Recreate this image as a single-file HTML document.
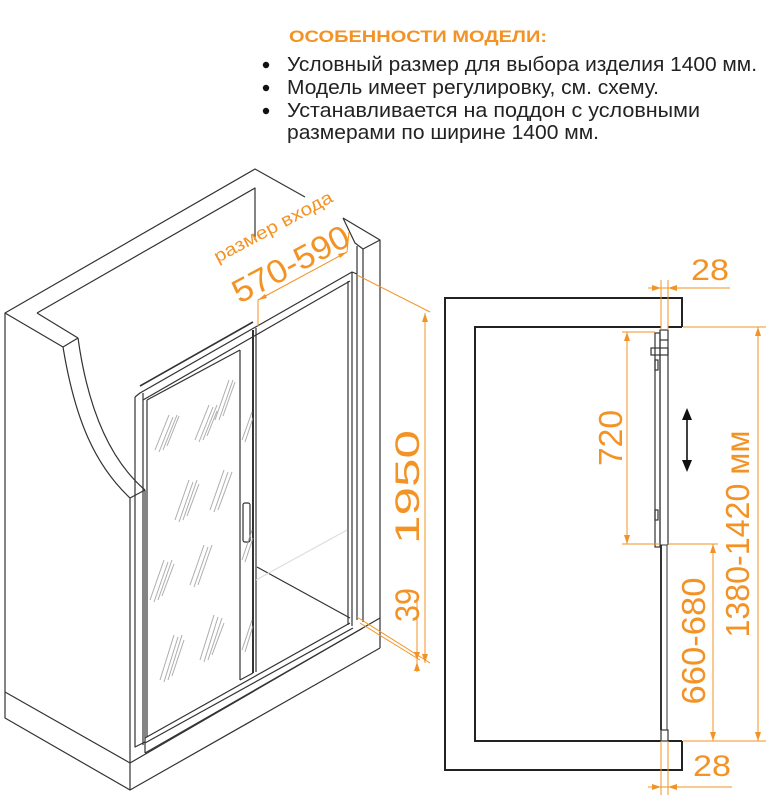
<!DOCTYPE html>
<html><head><meta charset="utf-8"><style>
html,body{margin:0;padding:0;background:#fff;}
svg{display:block;}
text{font-family:"Liberation Sans",sans-serif;}
</style></head><body>
<svg width="770" height="799" viewBox="0 0 770 799" xmlns="http://www.w3.org/2000/svg">
<!-- Header text -->
<text x="289" y="42" font-size="17" font-weight="bold" fill="#f39325" textLength="258" lengthAdjust="spacingAndGlyphs">ОСОБЕННОСТИ МОДЕЛИ:</text>
<g font-size="20" fill="#222">
<circle cx="266" cy="65" r="3.2" fill="#111"/>
<circle cx="266" cy="88" r="3.2" fill="#111"/>
<circle cx="266" cy="111" r="3.2" fill="#111"/>
<text x="287" y="71" textLength="470" lengthAdjust="spacingAndGlyphs">Условный размер для выбора изделия 1400 мм.</text>
<text x="287" y="94" textLength="372" lengthAdjust="spacingAndGlyphs">Модель имеет регулировку, см. схему.</text>
<text x="287" y="117" textLength="413" lengthAdjust="spacingAndGlyphs">Устанавливается на поддон с условными</text>
<text x="287" y="139" textLength="312" lengthAdjust="spacingAndGlyphs">размерами по ширине 1400 мм.</text>
</g>

<!-- Left isometric drawing -->
<g fill="none" stroke="#333" stroke-width="1.2" stroke-linejoin="round">
<!-- outer top edges -->
<polyline points="5,692 5,313 255,169 305,197"/>
<polyline points="343,218 380,240 380,648"/>
<polyline points="37,313 255,188 255,240"/>
<line x1="5" y1="313" x2="63" y2="347"/>
<line x1="37" y1="313" x2="78" y2="338"/>
<line x1="63" y1="347" x2="78" y2="338"/>
<path d="M63,347 C75,420 95,465 130,498"/>
<path d="M78,338 C88,410 110,460 145,490"/>
<line x1="130" y1="498" x2="145" y2="490"/>
<line x1="130" y1="498" x2="130" y2="790"/>
<line x1="145" y1="490" x2="145" y2="753"/>
<!-- base -->
<polyline points="5,692 5,718 130,790 380,648"/>
<line x1="5" y1="692" x2="130" y2="763"/>
<line x1="130" y1="763" x2="380" y2="618"/>
<line x1="145" y1="753" x2="363" y2="628"/>
<!-- right wall -->
<polyline points="343,218 355,243 363,249 380,240"/>
<line x1="363" y1="249" x2="363" y2="622"/>
<line x1="357" y1="246" x2="357" y2="620"/>
<!-- door frame -->
<polyline points="135,397 135,747 145,742"/>
<polyline points="135,397 140,393 352,272 357,274"/>
<line x1="143" y1="393" x2="143" y2="745"/>
<line x1="143" y1="400" x2="350" y2="281"/>
<line x1="140" y1="386" x2="253" y2="322" stroke-width="1.6"/>
<line x1="348" y1="281" x2="348" y2="625"/>
<line x1="352" y1="272" x2="352" y2="626"/>
<line x1="145" y1="738" x2="350" y2="623"/>
<line x1="145" y1="743" x2="353" y2="628"/>
<!-- fixed glass -->
<line x1="147" y1="400" x2="240" y2="350"/>
<line x1="147" y1="400" x2="147" y2="737"/>
<line x1="240" y1="350" x2="240" y2="680"/>
<line x1="253" y1="330" x2="253" y2="673" stroke-width="2"/>
<line x1="256" y1="328" x2="256" y2="672"/>
<line x1="240" y1="680" x2="253" y2="673"/>
<!-- floor -->
<line x1="257" y1="567" x2="350" y2="618"/>
<line x1="256" y1="580" x2="347" y2="530" stroke="#ddd"/>
<!-- handle -->
<rect x="243" y="503" width="7" height="39" rx="2"/>
</g>
<!-- glass hatching -->
<g stroke="#999" stroke-width="1" opacity="0.8">
<path d="M155,450l14,-35M159,452l14,-35M163,450l14,-35M167,446l12,-30"/>
<path d="M195,440l14,-35M199,442l14,-35M203,440l14,-35M207,436l10,-25"/>
<path d="M175,520l14,-40M179,522l14,-40M183,520l14,-40M187,516l12,-32"/>
<path d="M210,510l14,-40M214,512l14,-40M218,510l14,-38"/>
<path d="M150,600l14,-40M154,602l14,-40M158,600l14,-40M162,596l12,-32"/>
<path d="M190,585l14,-40M194,587l14,-40M198,585l14,-40"/>
<path d="M160,680l14,-45M164,682l14,-45M168,680l14,-45M172,676l12,-36"/>
<path d="M200,660l14,-45M204,662l14,-45M208,660l14,-42M212,655l12,-32"/>
<path d="M215,420l14,-40M219,420l14,-40M223,416l12,-34"/>
<path d="M242,440l10,-28M245,442l8,-24M242,560l10,-30M245,562l8,-24M242,650l10,-30M245,652l8,-26"/>
</g>
<!-- orange dims left -->
<g stroke="#f39325" stroke-width="1" fill="#f39325">
<line x1="258" y1="300" x2="258" y2="326"/>
<line x1="258" y1="300" x2="347" y2="252"/>
<line x1="347" y1="252" x2="349" y2="232"/>
<path d="M258,300l9,-2 -2,-4z" stroke="none"/>
<path d="M347,252l-9,2 2,4z" stroke="none"/>
<line x1="357" y1="275" x2="430" y2="312"/>
<line x1="357" y1="617" x2="430" y2="663"/>
<line x1="360" y1="623" x2="420" y2="660"/>
<line x1="425" y1="313" x2="425" y2="663"/>
<path d="M425,313l-3,9 6,0z M425,663l-3,-9 6,0z" stroke="none"/>
<line x1="417" y1="592" x2="417" y2="672"/>
<path d="M417,660l-3,-8 6,0z M417,662l-3,9 6,0z" stroke="none"/>
</g>
<g fill="#f39325">
<text transform="translate(276,232) rotate(-28)" font-size="18" text-anchor="middle" textLength="132" lengthAdjust="spacingAndGlyphs">размер входа</text>
<text transform="translate(296,274) rotate(-28)" font-size="33" text-anchor="middle" textLength="128" lengthAdjust="spacingAndGlyphs">570-590</text>
<text transform="translate(419,487) rotate(-90)" font-size="34" text-anchor="middle" textLength="114" lengthAdjust="spacingAndGlyphs">1950</text>
<text transform="translate(419,605) rotate(-90)" font-size="34" text-anchor="middle" textLength="34" lengthAdjust="spacingAndGlyphs">39</text>
</g>

<!-- Right plan drawing -->
<g fill="none" stroke="#222" stroke-width="2">
<polyline points="682,327 682,298 445,298 445,770 682,770 682,741"/>
<polyline points="661,327 475,327 475,741 661,741"/>
<line x1="682" y1="327" x2="668" y2="327"/>
<line x1="682" y1="741" x2="668" y2="741"/>
</g>
<g fill="none" stroke="#333" stroke-width="1.2">
<rect x="660" y="330" width="8" height="10"/>
<line x1="660" y1="340" x2="660" y2="545"/>
<line x1="668" y1="340" x2="668" y2="545"/>
<rect x="655" y="333" width="5" height="214"/>
<rect x="651" y="348" width="17" height="7"/>
<rect x="655" y="360" width="3" height="10"/>
<rect x="655" y="510" width="3" height="10"/>
<rect x="661" y="545" width="6" height="185" stroke-width="1"/>
<line x1="661" y1="545" x2="661" y2="730" stroke-width="2"/>
<rect x="661" y="730" width="7" height="11"/>
</g>
<g stroke="#f39325" stroke-width="1" fill="#f39325">
<line x1="661" y1="280" x2="661" y2="330"/>
<line x1="668" y1="280" x2="668" y2="330"/>
<line x1="648" y1="288" x2="730" y2="288"/>
<path d="M661,288l-9,-3 0,6z M668,288l9,-3 0,6z" stroke="none"/>
<line x1="661" y1="741" x2="661" y2="795"/>
<line x1="668" y1="741" x2="668" y2="795"/>
<line x1="648" y1="787" x2="732" y2="787"/>
<path d="M661,787l-9,-3 0,6z M668,787l9,-3 0,6z" stroke="none"/>
<line x1="622" y1="332" x2="655" y2="332"/>
<line x1="622" y1="544" x2="660" y2="544"/>
<line x1="627" y1="332" x2="627" y2="544"/>
<path d="M627,332l-3,9 6,0z M627,544l-3,-9 6,0z" stroke="none"/>
<line x1="668" y1="544" x2="718" y2="544"/>
<line x1="713" y1="544" x2="713" y2="741"/>
<path d="M713,544l-3,9 6,0z M713,741l-3,-9 6,0z" stroke="none"/>
<line x1="683" y1="327" x2="766" y2="327"/>
<line x1="683" y1="741" x2="766" y2="741"/>
<line x1="758" y1="327" x2="758" y2="741"/>
<path d="M758,327l-3,9 6,0z M758,741l-3,-9 6,0z" stroke="none"/>
</g>
<g stroke="#111" stroke-width="1.6" fill="#111">
<line x1="687" y1="414" x2="687" y2="466"/>
<path d="M687,408l-5,12 10,0z M687,472l-5,-12 10,0z" stroke="none"/>
</g>
<g fill="#f39325">
<text x="710" y="280" font-size="30" text-anchor="middle" textLength="38" lengthAdjust="spacingAndGlyphs">28</text>
<text x="712" y="776" font-size="30" text-anchor="middle" textLength="38" lengthAdjust="spacingAndGlyphs">28</text>
<text transform="translate(622,438) rotate(-90)" font-size="33" text-anchor="middle" textLength="56" lengthAdjust="spacingAndGlyphs">720</text>
<text transform="translate(705,641) rotate(-90)" font-size="33" text-anchor="middle" textLength="127" lengthAdjust="spacingAndGlyphs">660-680</text>
<text transform="translate(749,534) rotate(-90)" font-size="33" text-anchor="middle" textLength="207" lengthAdjust="spacingAndGlyphs">1380-1420 мм</text>
</g>
</svg>
</body></html>
